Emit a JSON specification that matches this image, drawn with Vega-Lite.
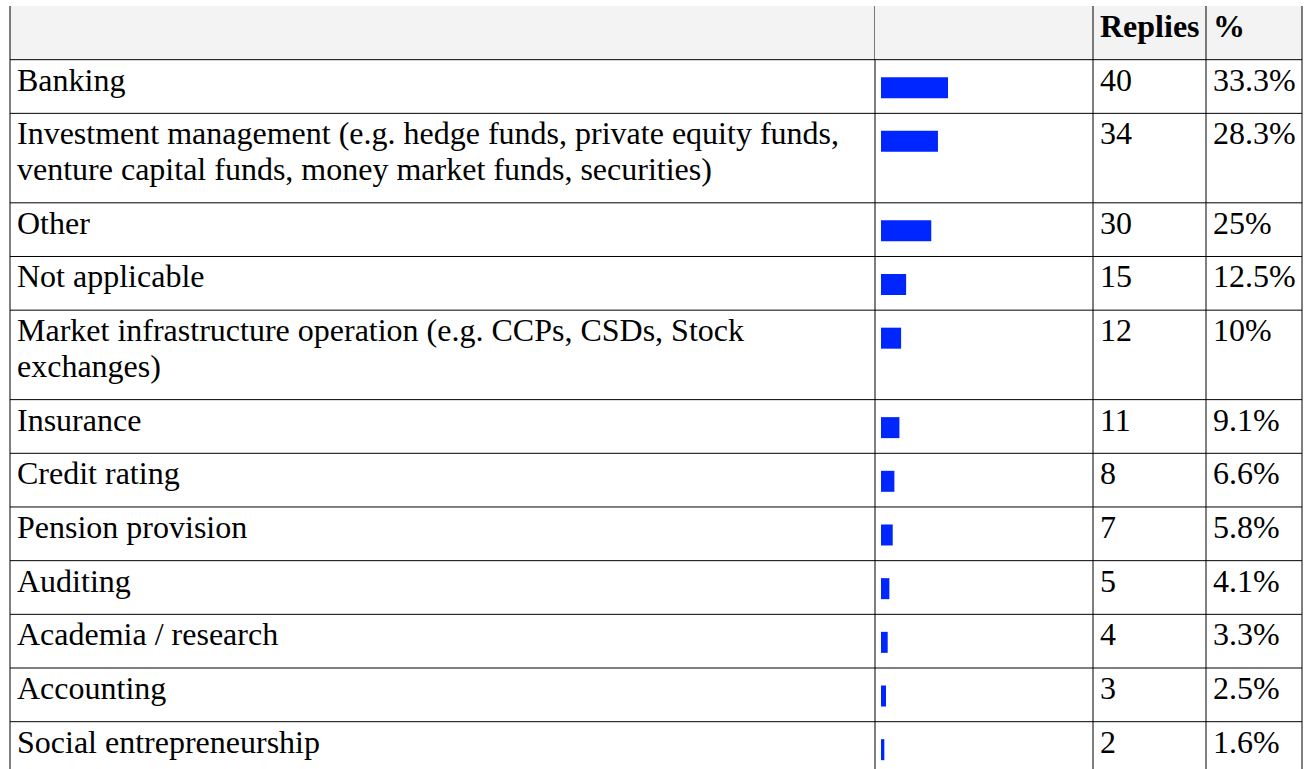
{
  "$schema": "https://vega.github.io/schema/vega-lite/v6.json",
  "padding": {"left": 9, "top": 5, "right": 0, "bottom": 0},
  "background": "white",
  "bounds": "flush",
  "spacing": 0,
  "config": {
    "view": {"stroke": null},
    "scale": {"continuousPadding": 0},
    "text": {"font": "Liberation Serif", "fontSize": 32, "color": "#000000"},
    "rule": {"color": "#000000", "strokeWidth": 1}
  },
  "datasets": {
    "rows": [
      {"rank": 1, "label": "Banking", "replies": 40, "pct": "33.3%", "lines": 1},
      {"rank": 2, "label": "Investment management (e.g. hedge funds, private equity funds,\nventure capital funds, money market funds, securities)", "replies": 34, "pct": "28.3%", "lines": 2},
      {"rank": 3, "label": "Other", "replies": 30, "pct": "25%", "lines": 1},
      {"rank": 4, "label": "Not applicable", "replies": 15, "pct": "12.5%", "lines": 1},
      {"rank": 5, "label": "Market infrastructure operation (e.g. CCPs, CSDs, Stock\nexchanges)", "replies": 12, "pct": "10%", "lines": 2},
      {"rank": 6, "label": "Insurance", "replies": 11, "pct": "9.1%", "lines": 1},
      {"rank": 7, "label": "Credit rating", "replies": 8, "pct": "6.6%", "lines": 1},
      {"rank": 8, "label": "Pension provision", "replies": 7, "pct": "5.8%", "lines": 1},
      {"rank": 9, "label": "Auditing", "replies": 5, "pct": "4.1%", "lines": 1},
      {"rank": 10, "label": "Academia / research", "replies": 4, "pct": "3.3%", "lines": 1},
      {"rank": 11, "label": "Accounting", "replies": 3, "pct": "2.5%", "lines": 1},
      {"rank": 12, "label": "Social entrepreneurship", "replies": 2, "pct": "1.6%", "lines": 1}
    ],
    "header": [
      {"label": "", "replies": "Replies", "pct": "%"}
    ],
    "edges": [
      {"edge": 0},
      {"edge": 1}
    ]
  },
  "data": {"name": "rows"},
  "transform": [
    {"calculate": "1 + 2 * datum.lines", "as": "units"},
    {"window": [{"op": "sum", "field": "units", "as": "cum"}], "sort": [{"field": "rank", "order": "ascending"}], "frame": [null, 0]},
    {"calculate": "datum.cum - datum.units + 3", "as": "start"},
    {"calculate": "0", "as": "left"}
  ],
  "hconcat": [
    {
      "width": 865,
      "height": 764,
      "layer": [
        {
          "data": {"name": "header"},
          "transform": [{"calculate": "0", "as": "top"}, {"calculate": "3", "as": "bottom"}],
          "mark": {"type": "rect", "color": "#f3f3f3"},
          "encoding": {
            "y": {"field": "top", "type": "quantitative", "scale": {"domain": [0, 42.7], "reverse": true, "nice": false, "padding": 0}, "axis": null},
            "y2": {"field": "bottom"}
          }
        },
        {
          "mark": {"type": "text", "align": "left", "baseline": "alphabetic", "dx": 7, "dy": 31, "lineBreak": "\n", "lineHeight": 36},
          "encoding": {
            "x": {"field": "left", "type": "quantitative", "scale": {"domain": [0, 1], "nice": false}, "axis": null},
            "y": {"field": "start", "type": "quantitative", "scale": {"domain": [0, 42.7], "reverse": true, "nice": false, "padding": 0}, "axis": null},
            "text": {"field": "label", "type": "nominal"}
          }
        },
        {
          "mark": {"type": "rule"},
          "encoding": {
            "y": {"field": "start", "type": "quantitative", "scale": {"domain": [0, 42.7], "reverse": true, "nice": false, "padding": 0}, "axis": null}
          }
        },
        {
          "data": {"name": "edges"},
          "mark": {"type": "rule"},
          "encoding": {
            "x": {"field": "edge", "type": "quantitative", "scale": {"domain": [0, 1], "nice": false}, "axis": null}
          }
        }
      ]
    },
    {
      "width": 218,
      "height": 764,
      "layer": [
        {
          "data": {"name": "header"},
          "transform": [{"calculate": "0", "as": "top"}, {"calculate": "3", "as": "bottom"}],
          "mark": {"type": "rect", "color": "#f3f3f3"},
          "encoding": {
            "y": {"field": "top", "type": "quantitative", "scale": {"domain": [0, 42.7], "reverse": true, "nice": false, "padding": 0}, "axis": null},
            "y2": {"field": "bottom"}
          }
        },
        {
          "mark": {"type": "bar", "orient": "horizontal", "size": 21, "color": "#0026ff", "yOffset": 28},
          "encoding": {
            "x": {"field": "replies", "type": "quantitative", "stack": null, "scale": {"domain": [-3.58, 126.57], "nice": false, "zero": false, "padding": 0}, "axis": null},
            "y": {"field": "start", "type": "quantitative", "scale": {"domain": [0, 42.7], "reverse": true, "nice": false, "padding": 0}, "axis": null}
          }
        },
        {
          "mark": {"type": "rule"},
          "encoding": {
            "y": {"field": "start", "type": "quantitative", "scale": {"domain": [0, 42.7], "reverse": true, "nice": false, "padding": 0}, "axis": null}
          }
        }
      ]
    },
    {
      "width": 113,
      "height": 764,
      "layer": [
        {
          "data": {"name": "header"},
          "transform": [{"calculate": "0", "as": "top"}, {"calculate": "3", "as": "bottom"}],
          "mark": {"type": "rect", "color": "#f3f3f3"},
          "encoding": {
            "y": {"field": "top", "type": "quantitative", "scale": {"domain": [0, 42.7], "reverse": true, "nice": false, "padding": 0}, "axis": null},
            "y2": {"field": "bottom"}
          }
        },
        {
          "data": {"name": "header"},
          "transform": [{"calculate": "0", "as": "top"}, {"calculate": "0", "as": "left"}],
          "mark": {"type": "text", "align": "left", "baseline": "alphabetic", "dx": 7, "dy": 31, "fontWeight": "bold"},
          "encoding": {
            "x": {"field": "left", "type": "quantitative", "scale": {"domain": [0, 1], "nice": false}, "axis": null},
            "y": {"field": "top", "type": "quantitative", "scale": {"domain": [0, 42.7], "reverse": true, "nice": false, "padding": 0}, "axis": null},
            "text": {"field": "replies", "type": "nominal"}
          }
        },
        {
          "mark": {"type": "text", "align": "left", "baseline": "alphabetic", "dx": 7, "dy": 31},
          "encoding": {
            "x": {"field": "left", "type": "quantitative", "scale": {"domain": [0, 1], "nice": false}, "axis": null},
            "y": {"field": "start", "type": "quantitative", "scale": {"domain": [0, 42.7], "reverse": true, "nice": false, "padding": 0}, "axis": null},
            "text": {"field": "replies", "type": "quantitative"}
          }
        },
        {
          "mark": {"type": "rule"},
          "encoding": {
            "y": {"field": "start", "type": "quantitative", "scale": {"domain": [0, 42.7], "reverse": true, "nice": false, "padding": 0}, "axis": null}
          }
        },
        {
          "data": {"name": "edges"},
          "transform": [{"filter": "datum.edge == 0"}],
          "mark": {"type": "rule"},
          "encoding": {
            "x": {"field": "edge", "type": "quantitative", "scale": {"domain": [0, 1], "nice": false}, "axis": null}
          }
        }
      ]
    },
    {
      "width": 96,
      "height": 764,
      "layer": [
        {
          "data": {"name": "header"},
          "transform": [{"calculate": "0", "as": "top"}, {"calculate": "3", "as": "bottom"}],
          "mark": {"type": "rect", "color": "#f3f3f3"},
          "encoding": {
            "y": {"field": "top", "type": "quantitative", "scale": {"domain": [0, 42.7], "reverse": true, "nice": false, "padding": 0}, "axis": null},
            "y2": {"field": "bottom"}
          }
        },
        {
          "data": {"name": "header"},
          "transform": [{"calculate": "0", "as": "top"}, {"calculate": "0", "as": "left"}],
          "mark": {"type": "text", "align": "left", "baseline": "alphabetic", "dx": 7, "dy": 31, "fontWeight": "bold"},
          "encoding": {
            "x": {"field": "left", "type": "quantitative", "scale": {"domain": [0, 1], "nice": false}, "axis": null},
            "y": {"field": "top", "type": "quantitative", "scale": {"domain": [0, 42.7], "reverse": true, "nice": false, "padding": 0}, "axis": null},
            "text": {"field": "pct", "type": "nominal"}
          }
        },
        {
          "mark": {"type": "text", "align": "left", "baseline": "alphabetic", "dx": 7, "dy": 31},
          "encoding": {
            "x": {"field": "left", "type": "quantitative", "scale": {"domain": [0, 1], "nice": false}, "axis": null},
            "y": {"field": "start", "type": "quantitative", "scale": {"domain": [0, 42.7], "reverse": true, "nice": false, "padding": 0}, "axis": null},
            "text": {"field": "pct", "type": "nominal"}
          }
        },
        {
          "mark": {"type": "rule"},
          "encoding": {
            "y": {"field": "start", "type": "quantitative", "scale": {"domain": [0, 42.7], "reverse": true, "nice": false, "padding": 0}, "axis": null}
          }
        },
        {
          "data": {"name": "edges"},
          "mark": {"type": "rule"},
          "encoding": {
            "x": {"field": "edge", "type": "quantitative", "scale": {"domain": [0, 1], "nice": false}, "axis": null}
          }
        }
      ]
    }
  ]
}
